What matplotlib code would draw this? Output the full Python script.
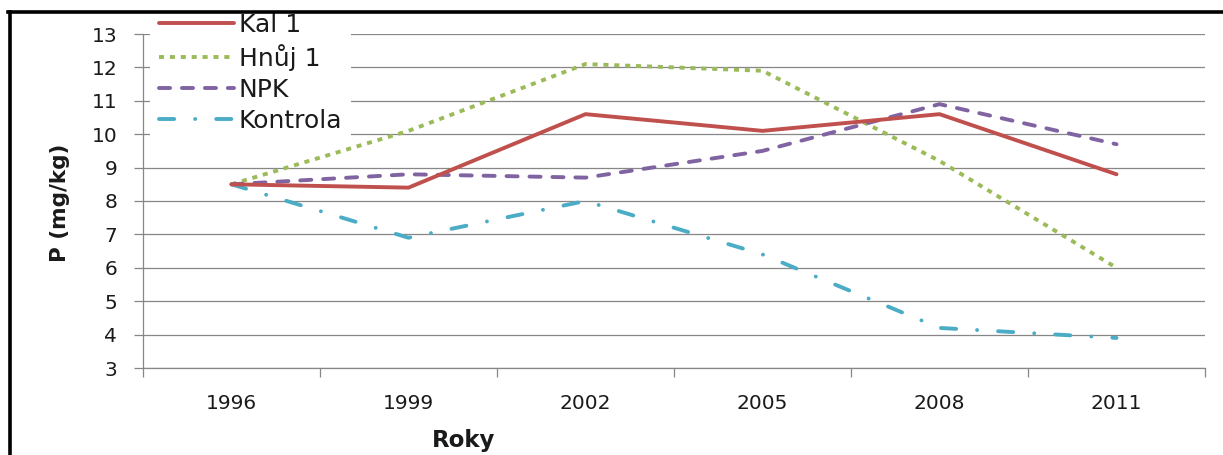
import matplotlib
matplotlib.use("Agg")
import matplotlib.pyplot as plt
from matplotlib.lines import Line2D

years = ["1996", "1999", "2002", "2005", "2008", "2011"]
kal = [8.5, 8.4, 10.6, 10.1, 10.6, 8.8]
hnuj = [8.5, 10.1, 12.1, 11.9, 9.2, 6.0]
npk = [8.5, 8.8, 8.7, 9.5, 10.9, 9.7]
kontrola = [8.5, 6.9, 8.0, 6.4, 4.2, 3.9]
series_names = ["Kal 1", "Hnůj 1", "NPK", "Kontrola"]

plt.rcParams['font.family'] = ['DejaVu Sans']

W, H = 1223, 455
fig = plt.figure(figsize=(W / 100, H / 100), dpi=100)
ax = fig.add_axes([143 / W, 1 - 368 / H, (1205 - 143) / W, (368 - 34) / H])

x = list(range(len(years)))
lw = 2.8
ax.plot(x, kal, color="#C0504D", lw=lw, solid_capstyle="round", solid_joinstyle="round",
        label=series_names[0], zorder=4)
ax.plot(x, hnuj, color="#9BBB59", lw=lw, linestyle=(0, (1.3, 1.5)), dash_capstyle="butt",
        label=series_names[1], zorder=3)
ax.plot(x, npk, color="#8064A2", lw=lw, linestyle=(0, (2.85, 3.05)), dash_capstyle="round",
        label=series_names[2], zorder=3)
ax.plot(x, kontrola, color="#4BACC6", lw=lw, linestyle=(0, (3.9, 5.4, 0.01, 5.4)),
        dash_capstyle="round", label=series_names[3], zorder=3)

ax.set_xlim(-0.5, len(years) - 0.5)
ax.set_ylim(3, 13)
ax.set_yticks(range(3, 14))
ax.set_xticks(x)
ax.set_xticklabels(years)
ax.set_xticks([i - 0.5 for i in range(len(years) + 1)], minor=True)

grid_c = "#878787"
ax.grid(axis="y", color=grid_c, lw=0.9, zorder=1)
ax.set_axisbelow(True)
for s in ["top", "right"]:
    ax.spines[s].set_visible(False)
for s in ["left", "bottom"]:
    ax.spines[s].set_color(grid_c)
    ax.spines[s].set_linewidth(0.9)

ax.tick_params(axis="y", length=6.5, width=0.9, color=grid_c, pad=12, labelsize=14.5,
               labelcolor="#1a1a1a")
ax.tick_params(axis="x", which="major", length=0, pad=19, labelsize=14.5, labelcolor="#1a1a1a")
ax.tick_params(axis="x", which="minor", length=6.5, width=0.9, color=grid_c)

fig.text(60 / W, 1 - 203 / H, "P (mg/kg)", rotation=90, ha="center", va="center",
         fontsize=15.5, fontweight="bold", color="#1a1a1a")
fig.text(464 / W, 1 - 440 / H, "Roky", ha="center", va="center",
         fontsize=16.5, fontweight="bold", color="#1a1a1a")

leg = fig.legend(loc="upper left", bbox_to_anchor=(150 / W, 1 - 4 / H), borderaxespad=0,
                 borderpad=0.35, fontsize=18, handlelength=3.0, handletextpad=0.2,
                 labelspacing=0.28, frameon=True, fancybox=False)
leg.get_frame().set_facecolor("white")
leg.get_frame().set_edgecolor("none")
leg.get_frame().set_alpha(1)
for t in leg.get_texts():
    t.set_color("#1a1a1a")

# page frame around the chart
fig.add_artist(Line2D([8 / W, 1], [1 - 12 / H, 1 - 12 / H], color="black", lw=2.6, zorder=10))
fig.add_artist(Line2D([9.5 / W, 9.5 / W], [0, 1 - 12 / H], color="black", lw=2.6, zorder=10))

fig.savefig("out.png", dpi=100)
